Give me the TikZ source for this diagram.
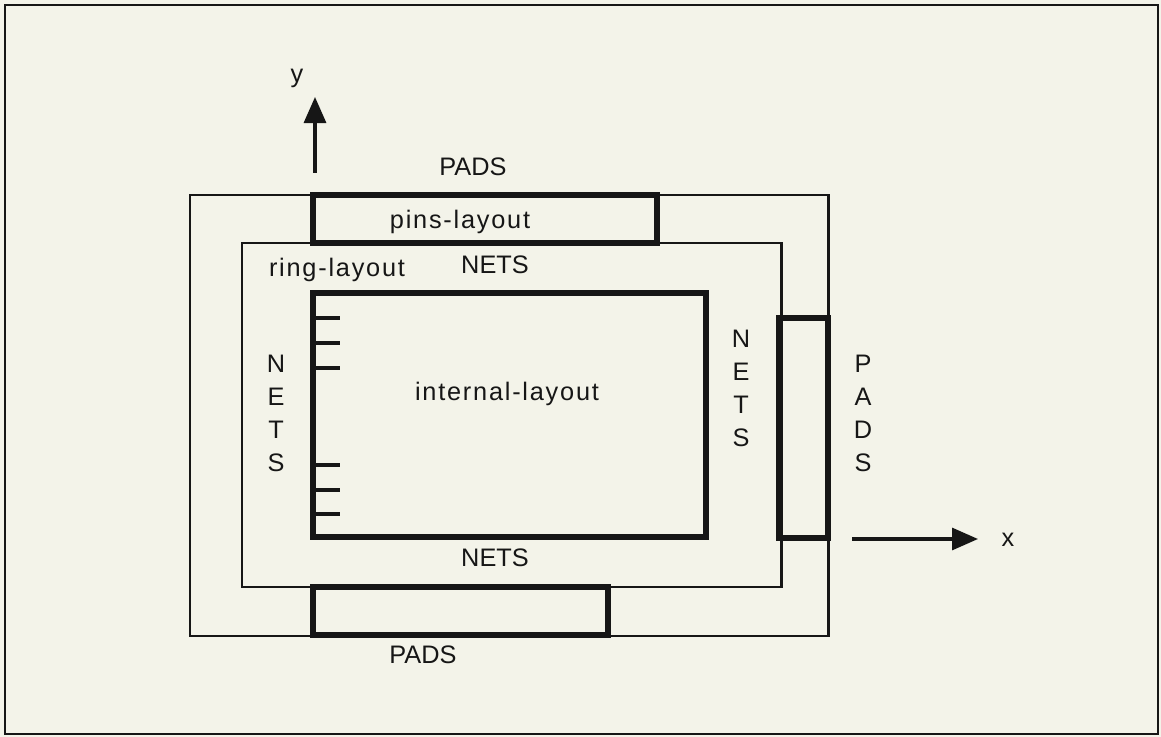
\documentclass[tikz,border=0pt]{standalone}
\usepackage{fontspec}
\setmainfont{Liberation Sans}
\newfontfamily\spacedfont{Liberation Sans}[LetterSpace=7]
\usetikzlibrary{arrows.meta}
\definecolor{paperbg}{RGB}{243,243,233}
\definecolor{inkblack}{RGB}{22,22,22}
\tikzset{
    thinwall/.style={draw=inkblack, line width=0.85pt},
    thickwall/.style={draw=inkblack, line width=1.45pt},
    pintick/.style={draw=inkblack, line width=1.1pt},
    axisarrow/.style={-{Triangle[length=0.26cm,width=0.22cm]}, draw=inkblack, line width=0.9pt},
    caplabel/.style={font=\fontsize{7.2}{8}\selectfont, text=inkblack, inner sep=0pt},
    lowlabel/.style={font=\fontsize{7.2}{8}\selectfont\spacedfont, text=inkblack, inner sep=0pt},
    stacklabel/.style={font=\fontsize{7.2}{9.4}\selectfont, text=inkblack, inner sep=0pt, align=center}
}
\begin{document}
\begin{tikzpicture}[x=0.01cm,y=-0.01cm]
    % Paper and frame
    \fill[paperbg] (0,0) rectangle (1161,737);
    \useasboundingbox (0,0) rectangle (1161,737);
    \draw[inkblack, line width=0.7pt] (5,5) rectangle (1158,734);

    % Pad ring and ring-layout
    \draw[thinwall] (190,195) rectangle (828,636);
    \draw[thinwall] (242,243) rectangle (781,587);

    % Pad boxes (top, right, bottom)
    \draw[thickwall] (313,195) rectangle (657,243);
    \draw[thickwall] (779,318) rectangle (828,538);
    \draw[thickwall] (313,587) rectangle (608,635);

    % Internal layout with pins on its left side
    \draw[thickwall] (313,293) rectangle (706,537);
    \foreach \ty in {318,343,368,465,490,514}
        \draw[pintick] (313,\ty) -- (340,\ty);

    % Labels
    \node[caplabel] (padstop)  at (473,167) {PADS};
    \node[lowlabel] (pins)     at (460,222) {pins-layout};
    \node[lowlabel] (ring)     at (337,270) {ring-layout};
    \node[caplabel] (netstop)  at (495,265) {NETS};
    \node[lowlabel] (internal) at (507,394) {internal-layout};
    \node[caplabel] (netsbot)  at (495,558) {NETS};
    \node[caplabel] (padsbot)  at (423,655) {PADS};
    \node[stacklabel] (netsleft)  at (276,413) {N\\E\\T\\S};
    \node[stacklabel] (netsright) at (741,388) {N\\E\\T\\S};
    \node[stacklabel] (padsright) at (863,413) {P\\A\\D\\S};

    % Axes
    \coordinate (ytail) at (315,173);
    \coordinate (yhead) at (315,97);
    \coordinate (xtail) at (852,539);
    \coordinate (xhead) at (978,539);
    \draw[axisarrow] (ytail) -- (yhead);
    \draw[axisarrow] (xtail) -- (xhead);
    \node[lowlabel] (ylabel) at (297,78)   {y};
    \node[lowlabel] (xlabel) at (1008,540) {x};
\end{tikzpicture}
\end{document}
